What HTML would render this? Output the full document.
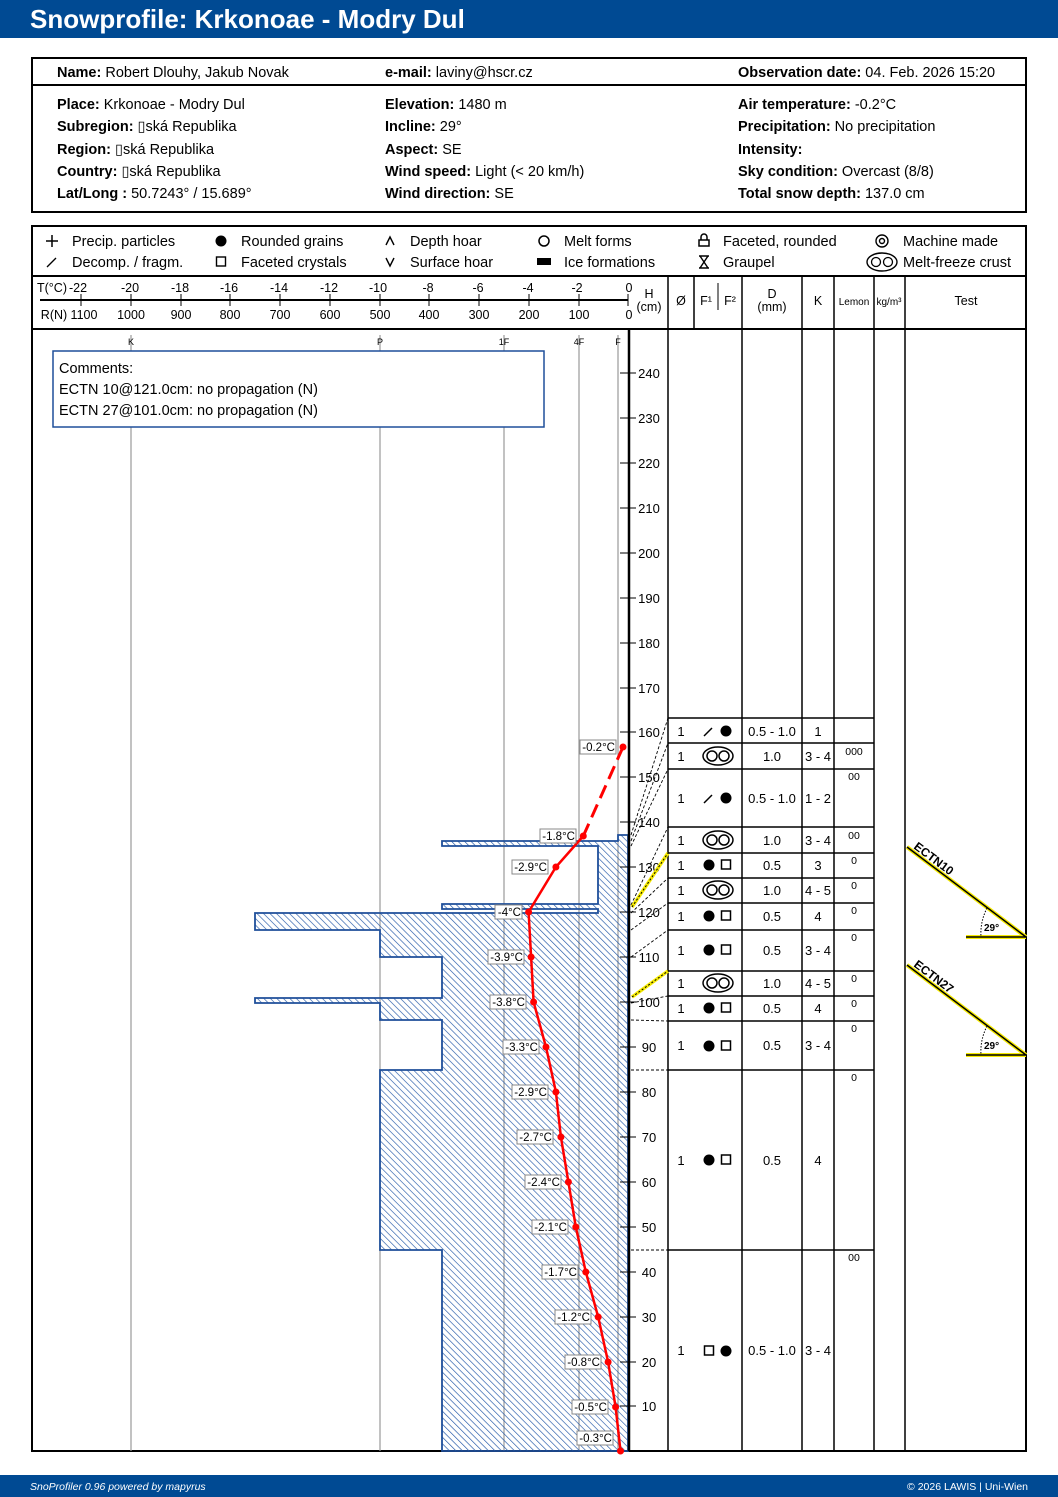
<!DOCTYPE html>
<html><head><meta charset="utf-8"><style>
body{margin:0;background:#fff}
svg{display:block;font-family:"Liberation Sans",sans-serif}
.b{font-weight:bold}
</style></head><body>
<svg width="1058" height="1497" viewBox="0 0 1058 1497" xmlns="http://www.w3.org/2000/svg">
<defs>
<pattern id="h" patternUnits="userSpaceOnUse" width="4.6" height="4.6" patternTransform="rotate(-45)">
<line x1="0" y1="0" x2="0" y2="4.6" stroke="#2458a8" stroke-width="1.3"/>
</pattern>
</defs>
<rect x="0" y="0" width="1058" height="38" fill="#004a93"/>
<text x="30" y="28" font-size="26" fill="#fff" class="b">Snowprofile: Krkonoae - Modry Dul</text>

<rect x="32" y="58" width="994" height="154" fill="none" stroke="#000" stroke-width="2"/>
<line x1="32" y1="85" x2="1026" y2="85" stroke="#000" stroke-width="2"/>
<g font-size="14.5">
<text x="57" y="77"><tspan class="b">Name:</tspan> Robert Dlouhy, Jakub Novak</text>
<text x="385" y="77"><tspan class="b">e-mail:</tspan> laviny@hscr.cz</text>
<text x="738" y="77"><tspan class="b">Observation date:</tspan> 04. Feb. 2026 15:20</text>
<text x="57" y="109"><tspan class="b">Place:</tspan> Krkonoae - Modry Dul</text>
<text x="57" y="131"><tspan class="b">Subregion:</tspan> ▯ská Republika</text>
<text x="57" y="154"><tspan class="b">Region:</tspan> ▯ská Republika</text>
<text x="57" y="176"><tspan class="b">Country:</tspan> ▯ská Republika</text>
<text x="57" y="198"><tspan class="b">Lat/Long :</tspan> 50.7243° / 15.689°</text>
<text x="385" y="109"><tspan class="b">Elevation:</tspan> 1480 m</text>
<text x="385" y="131"><tspan class="b">Incline:</tspan> 29°</text>
<text x="385" y="154"><tspan class="b">Aspect:</tspan> SE</text>
<text x="385" y="176"><tspan class="b">Wind speed:</tspan> Light (&lt; 20 km/h)</text>
<text x="385" y="198"><tspan class="b">Wind direction:</tspan> SE</text>
<text x="738" y="109"><tspan class="b">Air temperature:</tspan> -0.2°C</text>
<text x="738" y="131"><tspan class="b">Precipitation:</tspan> No precipitation</text>
<text x="738" y="154"><tspan class="b">Intensity:</tspan></text>
<text x="738" y="176"><tspan class="b">Sky condition:</tspan> Overcast (8/8)</text>
<text x="738" y="198"><tspan class="b">Total snow depth:</tspan> 137.0 cm</text>
</g>

<rect x="32" y="226" width="994" height="1225" fill="none" stroke="#000" stroke-width="2"/>
<line x1="32" y1="276" x2="1026" y2="276" stroke="#000" stroke-width="2"/>
<line x1="32" y1="329" x2="1026" y2="329" stroke="#000" stroke-width="2"/>

<g font-size="14.5">
<path d="M46 241h12M52 235v12" stroke="#000" stroke-width="1.5"/>
<text x="72" y="246">Precip. particles</text>
<path d="M47 267l9-9" stroke="#000" stroke-width="1.3"/>
<text x="72" y="267">Decomp. / fragm.</text>
<circle cx="221" cy="241" r="5.5"/>
<text x="241" y="246">Rounded grains</text>
<rect x="216.5" y="257" width="9" height="9" fill="none" stroke="#000" stroke-width="1.4"/>
<text x="241" y="267">Faceted crystals</text>
<path d="M386 245l4-8 4 8" fill="none" stroke="#000" stroke-width="1.4"/>
<text x="410" y="246">Depth hoar</text>
<path d="M386 258l4 8 4-8" fill="none" stroke="#000" stroke-width="1.4"/>
<text x="410" y="267">Surface hoar</text>
<circle cx="544" cy="241" r="5" fill="none" stroke="#000" stroke-width="1.5"/>
<text x="564" y="246">Melt forms</text>
<rect x="537" y="258" width="14" height="7"/>
<text x="564" y="267">Ice formations</text>
<path d="M699 246v-6h10v6zM701 240v-3a3 3 0 0 1 6 0v3" fill="none" stroke="#000" stroke-width="1.5"/>
<text x="723" y="246">Faceted, rounded</text>
<path d="M699 256h10M699 268h10M700 256l8 12M708 256l-8 12" fill="none" stroke="#000" stroke-width="1.4"/>
<text x="723" y="267">Graupel</text>
<circle cx="882" cy="241" r="6" fill="none" stroke="#000" stroke-width="1.4"/>
<circle cx="882" cy="241" r="2.5" fill="none" stroke="#000" stroke-width="1.4"/>
<text x="903" y="246">Machine made</text>
<ellipse cx="882" cy="262" rx="15" ry="9" fill="none" stroke="#000" stroke-width="1.4"/>
<circle cx="876" cy="262" r="4.5" fill="none" stroke="#000" stroke-width="1.3"/>
<circle cx="888" cy="262" r="4.5" fill="none" stroke="#000" stroke-width="1.3"/>
<text x="903" y="267">Melt-freeze crust</text>
</g>

<line x1="40" y1="300" x2="628" y2="300" stroke="#000" stroke-width="2"/>
<g stroke="#000" stroke-width="1">
<path d="M81 294v12M131 294v12M181 294v12M230 294v12M280 294v12M330 294v12M380 294v12M429 294v12M479 294v12M529 294v12M579 294v12M628 294v12"/>
</g>
<g font-size="12.5" text-anchor="middle">
<text x="52" y="292">T(°C)</text><text x="78" y="292">-22</text>
<text x="130" y="292">-20</text><text x="180" y="292">-18</text><text x="229" y="292">-16</text><text x="279" y="292">-14</text><text x="329" y="292">-12</text><text x="378" y="292">-10</text><text x="428" y="292">-8</text><text x="478" y="292">-6</text><text x="528" y="292">-4</text><text x="577" y="292">-2</text><text x="629" y="292">0</text>
<text x="54" y="319">R(N)</text><text x="84" y="319">1100</text>
<text x="131" y="319">1000</text><text x="181" y="319">900</text><text x="230" y="319">800</text><text x="280" y="319">700</text><text x="330" y="319">600</text><text x="380" y="319">500</text><text x="429" y="319">400</text><text x="479" y="319">300</text><text x="529" y="319">200</text><text x="579" y="319">100</text><text x="629" y="319">0</text>
<text x="649" y="298">H</text><text x="649" y="311">(cm)</text>
<text x="681" y="305">Ø</text>
<text x="706" y="305">F¹</text><text x="730" y="305">F²</text>
<text x="772" y="298">D</text><text x="772" y="311">(mm)</text>
<text x="818" y="305">K</text>
<text x="854" y="305" font-size="10">Lemon</text>
<text x="889" y="305" font-size="10">kg/m³</text>
<text x="966" y="305">Test</text>
</g>
<g stroke="#000" stroke-width="1.5">
<path d="M668 276V1451M694 276V329M742 276V1451M802 276V1451M834 276V1451M874 276V1451M905 276V1451"/>
<path d="M718 283V310" stroke-width="1"/>
</g>

<g stroke="#999" stroke-width="1.2">
<path d="M131 335V1451M380 335V1451M504 335V1451M579 335V1451M618 335V1451"/>
</g>
<g font-size="9" text-anchor="middle">
<text x="131" y="345">K</text><text x="380" y="345">P</text><text x="504" y="345">1F</text><text x="579" y="345">4F</text><text x="618" y="345">F</text>
</g>

<rect x="53" y="351" width="491" height="76" fill="#fff" stroke="#1f4f9a" stroke-width="1.5"/>
<g font-size="14.5">
<text x="59" y="373">Comments:</text>
<text x="59" y="394">ECTN 10@121.0cm: no propagation (N)</text>
<text x="59" y="415">ECTN 27@101.0cm: no propagation (N)</text>
</g>

<path d="M628 835H618V841H442V846H598V904H442V909H598V913H255V930H380V957H442V998H255V1003H380V1020H442V1070H380V1250H442V1451H628Z" fill="url(#h)" stroke="#1f4f9a" stroke-width="1.8"/>

<line x1="629" y1="329" x2="629" y2="1451" stroke="#000" stroke-width="2.5"/>
<g stroke="#000" stroke-width="1">
<path d="M620 373h16M620 418h16M620 463h16M620 508h16M620 553h16M620 598h16M620 643h16M620 688h16M620 732h16M620 777h16M620 822h16M620 867h16M620 912h16M620 957h16M620 1002h16M620 1047h16M620 1092h16M620 1137h16M620 1182h16M620 1227h16M620 1272h16M620 1317h16M620 1362h16M620 1406h16"/>
</g>
<g font-size="13" text-anchor="middle">
<text x="649" y="378">240</text><text x="649" y="423">230</text><text x="649" y="468">220</text><text x="649" y="513">210</text><text x="649" y="558">200</text><text x="649" y="603">190</text><text x="649" y="648">180</text><text x="649" y="693">170</text><text x="649" y="737">160</text><text x="649" y="782">150</text><text x="649" y="827">140</text><text x="649" y="872">130</text><text x="649" y="917">120</text><text x="649" y="962">110</text><text x="649" y="1007">100</text><text x="649" y="1052">90</text><text x="649" y="1097">80</text><text x="649" y="1142">70</text><text x="649" y="1187">60</text><text x="649" y="1232">50</text><text x="649" y="1277">40</text><text x="649" y="1322">30</text><text x="649" y="1367">20</text><text x="649" y="1411">10</text>
</g>

<g stroke="#000" stroke-width="0.9" stroke-dasharray="3,2" fill="none">
<path d="M631 835L668 718M631 841L668 743M631 846L668 769M631 905L668 827M631 913L668 878M631 930L668 903M631 957L668 930M631 1003L668 996M631 1020L668 1021M631 1070H668M631 1250H668"/>
</g>
<g stroke="#f5ea00" stroke-width="3.5" fill="none">
<path d="M632 907L668 853M632 997L668 971"/>
</g>
<g stroke="#000" stroke-width="1" stroke-dasharray="2,2" fill="none">
<path d="M632 907L668 853M632 997L668 971"/>
</g>

<g stroke="#000" stroke-width="1.5">
<path d="M668 718H874M668 743H874M668 769H874M668 827H874M668 853H874M668 878H874M668 903H874M668 930H874M668 971H874M668 996H874M668 1021H874M668 1070H874M668 1250H874"/>
</g>
<g font-size="13" text-anchor="middle">
<text x="681" y="736">1</text><text x="772" y="736">0.5 - 1.0</text><text x="818" y="736">1</text>
<text x="681" y="761">1</text><text x="772" y="761">1.0</text><text x="818" y="761">3 - 4</text>
<text x="681" y="803">1</text><text x="772" y="803">0.5 - 1.0</text><text x="818" y="803">1 - 2</text>
<text x="681" y="845">1</text><text x="772" y="845">1.0</text><text x="818" y="845">3 - 4</text>
<text x="681" y="870">1</text><text x="772" y="870">0.5</text><text x="818" y="870">3</text>
<text x="681" y="895">1</text><text x="772" y="895">1.0</text><text x="818" y="895">4 - 5</text>
<text x="681" y="921">1</text><text x="772" y="921">0.5</text><text x="818" y="921">4</text>
<text x="681" y="955">1</text><text x="772" y="955">0.5</text><text x="818" y="955">3 - 4</text>
<text x="681" y="988">1</text><text x="772" y="988">1.0</text><text x="818" y="988">4 - 5</text>
<text x="681" y="1013">1</text><text x="772" y="1013">0.5</text><text x="818" y="1013">4</text>
<text x="681" y="1050">1</text><text x="772" y="1050">0.5</text><text x="818" y="1050">3 - 4</text>
<text x="681" y="1165">1</text><text x="772" y="1165">0.5</text><text x="818" y="1165">4</text>
<text x="681" y="1355">1</text><text x="772" y="1355">0.5 - 1.0</text><text x="818" y="1355">3 - 4</text>
</g>
<g font-size="10.5" text-anchor="middle">
<text x="854" y="755">000</text><text x="854" y="780">00</text><text x="854" y="839">00</text>
<text x="854" y="864">0</text><text x="854" y="889">0</text><text x="854" y="914">0</text><text x="854" y="941">0</text>
<text x="854" y="982">0</text><text x="854" y="1007">0</text><text x="854" y="1032">0</text><text x="854" y="1081">0</text><text x="854" y="1261">00</text>
</g>
<g fill="none" stroke="#000" stroke-width="1.5">
<path d="M704 736l8-8M704 803l8-8"/>
<g id="mf"><ellipse cx="718" cy="756" rx="15" ry="9"/><circle cx="712" cy="756" r="5"/><circle cx="724" cy="756" r="5"/></g>
<use href="#mf" y="84"/><use href="#mf" y="134"/><use href="#mf" y="227"/>
<rect x="721.5" y="860" width="9" height="9"/><rect x="721.5" y="911" width="9" height="9"/><rect x="721.5" y="945" width="9" height="9"/><rect x="721.5" y="1003" width="9" height="9"/><rect x="721.5" y="1041" width="9" height="9"/><rect x="721.5" y="1155" width="9" height="9"/>
<rect x="704.5" y="1346" width="9" height="9"/>
</g>
<g>
<circle cx="726" cy="731" r="5.5"/><circle cx="726" cy="798" r="5.5"/>
<circle cx="709" cy="865" r="5.5"/><circle cx="709" cy="916" r="5.5"/><circle cx="709" cy="950" r="5.5"/><circle cx="709" cy="1008" r="5.5"/><circle cx="709" cy="1046" r="5.5"/><circle cx="709" cy="1160" r="5.5"/>
<circle cx="726" cy="1351" r="5.5"/>
</g>

<g>
<path d="M907 847L1026 937M966 937H1026" stroke="#f5ea00" stroke-width="4" fill="none"/>
<path d="M907 847L1026 937M966 937H1026" stroke="#000" stroke-width="1.5" fill="none"/>
<path d="M987 908Q980 922 981 937" stroke="#000" stroke-width="1" stroke-dasharray="1.5,1.5" fill="none"/>
<text x="984" y="931" font-size="10" class="b">29°</text>
<text x="0" y="0" font-size="12" class="b" transform="translate(913 848) rotate(37)">ECTN10</text>
<path d="M907 965L1026 1055M966 1055H1026" stroke="#f5ea00" stroke-width="4" fill="none"/>
<path d="M907 965L1026 1055M966 1055H1026" stroke="#000" stroke-width="1.5" fill="none"/>
<path d="M987 1026Q980 1040 981 1055" stroke="#000" stroke-width="1" stroke-dasharray="1.5,1.5" fill="none"/>
<text x="984" y="1049" font-size="10" class="b">29°</text>
<text x="0" y="0" font-size="12" class="b" transform="translate(913 966) rotate(37)">ECTN27</text>
</g>

<path d="M623 747L583.3 836" stroke="#f00" stroke-width="3" stroke-dasharray="14,7" fill="none"/>
<polyline points="583.3,836 555.9,867 528.6,912 531.1,957 533.6,1002 546,1047 555.9,1092 560.9,1137 568.4,1182 575.8,1227 585.8,1272 598.2,1317 608.1,1362 615.6,1407 620.5,1451" stroke="#f00" stroke-width="2.5" fill="none"/>
<g fill="#f00">
<circle cx="623" cy="747" r="3.5"/><circle cx="583.3" cy="836" r="3.5"/><circle cx="555.9" cy="867" r="3.5"/><circle cx="528.6" cy="912" r="3.5"/><circle cx="531.1" cy="957" r="3.5"/><circle cx="533.6" cy="1002" r="3.5"/><circle cx="546" cy="1047" r="3.5"/><circle cx="555.9" cy="1092" r="3.5"/><circle cx="560.9" cy="1137" r="3.5"/><circle cx="568.4" cy="1182" r="3.5"/><circle cx="575.8" cy="1227" r="3.5"/><circle cx="585.8" cy="1272" r="3.5"/><circle cx="598.2" cy="1317" r="3.5"/><circle cx="608.1" cy="1362" r="3.5"/><circle cx="615.6" cy="1407" r="3.5"/><circle cx="620.5" cy="1451" r="3.5"/>
</g>
<g font-size="11.5" text-anchor="end">
<g fill="#fff" stroke="#888" stroke-width="1">
<rect x="580" y="740" width="36" height="14"/><rect x="540" y="829" width="36" height="14"/><rect x="512" y="860" width="36" height="14"/><rect x="495" y="905" width="27" height="14"/><rect x="488" y="950" width="36" height="14"/><rect x="490" y="995" width="36" height="14"/><rect x="503" y="1040" width="36" height="14"/><rect x="512" y="1085" width="36" height="14"/><rect x="517" y="1130" width="36" height="14"/><rect x="525" y="1175" width="36" height="14"/><rect x="532" y="1220" width="36" height="14"/><rect x="542" y="1265" width="36" height="14"/><rect x="555" y="1310" width="36" height="14"/><rect x="565" y="1355" width="36" height="14"/><rect x="572" y="1400" width="36" height="14"/><rect x="577" y="1431" width="36" height="14"/>
</g>
<text x="615" y="751">-0.2°C</text><text x="575" y="840">-1.8°C</text><text x="547" y="871">-2.9°C</text><text x="521" y="916">-4°C</text><text x="523" y="961">-3.9°C</text><text x="525" y="1006">-3.8°C</text><text x="538" y="1051">-3.3°C</text><text x="547" y="1096">-2.9°C</text><text x="552" y="1141">-2.7°C</text><text x="560" y="1186">-2.4°C</text><text x="567" y="1231">-2.1°C</text><text x="577" y="1276">-1.7°C</text><text x="590" y="1321">-1.2°C</text><text x="600" y="1366">-0.8°C</text><text x="607" y="1411">-0.5°C</text><text x="612" y="1442">-0.3°C</text>
</g>

<rect x="0" y="1475" width="1058" height="22" fill="#004a93"/>
<text x="30" y="1490" font-size="10.5" fill="#fff" font-style="italic">SnoProfiler 0.96 powered by mapyrus</text>
<text x="1028" y="1490" font-size="10.5" fill="#fff" text-anchor="end">© 2026 LAWIS | Uni-Wien</text>
</svg>
</body></html>
